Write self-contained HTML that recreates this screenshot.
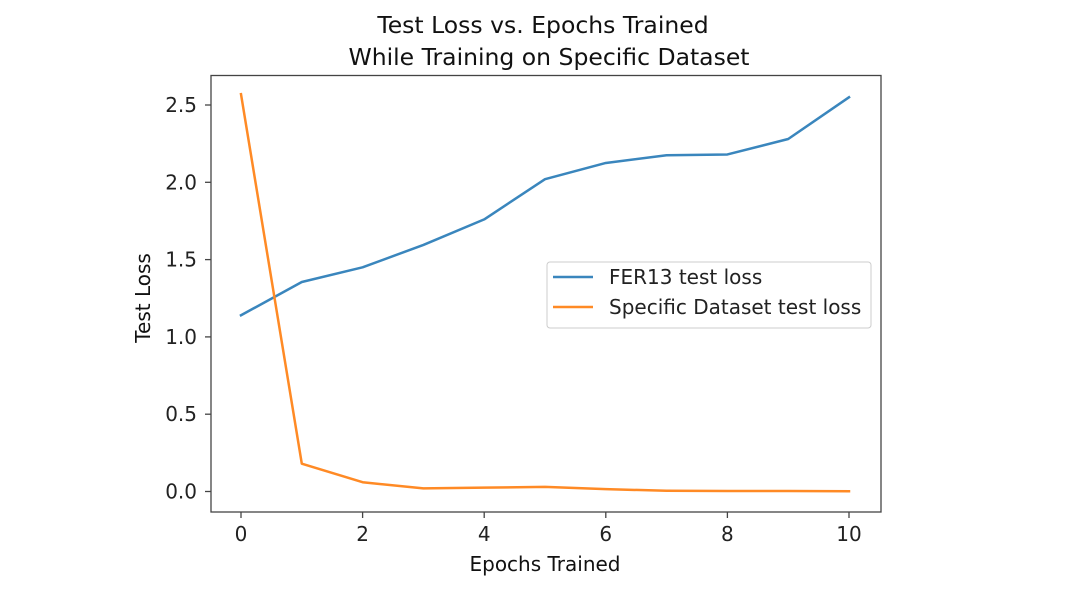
<!DOCTYPE html>
<html><head><meta charset="utf-8"><style>
html,body{margin:0;padding:0;background:#fff;}
svg{display:block;font-family:"DejaVu Sans","Liberation Sans",sans-serif;}
</style></head><body>
<svg id="chart" width="1081" height="603" viewBox="0 0 1081 603">
<text x="543" y="33" text-anchor="middle" font-size="23.5" fill="#111">Test Loss vs. Epochs Trained</text>
<text x="549" y="65" text-anchor="middle" font-size="23.5" fill="#111">While Training on Specific Dataset</text>
<g id="plot"></g>
<text x="545" y="571" text-anchor="middle" font-size="20" fill="#111">Epochs Trained</text>
<text transform="translate(150,298) rotate(-90)" text-anchor="middle" font-size="20" fill="#111">Test Loss</text>
<g>
<rect x="547" y="262" width="324" height="66" rx="3" fill="#fff" stroke="#ccc" stroke-width="1"/>
<line x1="553" y1="277" x2="593" y2="277" stroke="#3a86bd" stroke-width="2.5"/>
<text x="609" y="284" font-size="20" fill="#222">FER13 test loss</text>
<line x1="553" y1="307" x2="593" y2="307" stroke="#ff8a25" stroke-width="2.5"/>
<text x="609" y="314" font-size="20" fill="#222">Specific Dataset test loss</text>
</g>
</svg>
<script>
const epochs = [0,1,2,3,4,5,6,7,8,9,10];
const ferLoss = [1.14,1.355,1.45,1.595,1.76,2.02,2.125,2.175,2.18,2.28,2.55];
const specificLoss = [2.57,0.18,0.06,0.02,0.025,0.03,0.015,0.005,0.003,0.003,0.002];
const xTicks = [0,2,4,6,8,10];
const yTicks = [0.0,0.5,1.0,1.5,2.0,2.5];
const yTickLabels = ["0.0","0.5","1.0","1.5","2.0","2.5"];

const L=211,R=881,T=75.5,B=512;
const xs = v => 241 + v*60.8;
const ys = v => 491.5 - v*154.6;
const NS="http://www.w3.org/2000/svg";
const g=document.getElementById('plot');
function mk(t,a){const e=document.createElementNS(NS,t);for(const k in a)e.setAttribute(k,a[k]);g.appendChild(e);return e;}

function series(data,color,name){
  const p=mk('polyline',{points:data.map((v,i)=>xs(epochs[i])+','+ys(v)).join(' '),fill:'none',stroke:color,'stroke-width':2.5,'stroke-linejoin':'round','stroke-linecap':'square'});
  
  
}
series(ferLoss,'#3a86bd','fer13-line');
series(specificLoss,'#ff8a25','specific-dataset-line');

const frame=mk('rect',{x:L,y:T,width:R-L,height:B-T,fill:'none',stroke:'#444','stroke-width':1.3});



xTicks.forEach(v=>{
  const x=xs(v);
  const tk=mk('line',{x1:x,y1:B,x2:x,y2:B+6,stroke:'#444','stroke-width':1.3});
  
  
  const t=mk('text',{x:x,y:B+29,'text-anchor':'middle','font-size':20,fill:'#222'});
  t.textContent=String(v);
  
  
});
yTicks.forEach((v,i)=>{
  const y=ys(v);
  const tk=mk('line',{x1:L-6,y1:y,x2:L,y2:y,stroke:'#444','stroke-width':1.3});
  
  
  const t=mk('text',{x:L-14,y:y+7,'text-anchor':'end','font-size':20,fill:'#222'});
  t.textContent=yTickLabels[i];
  
  
});
</script>
</body></html>
